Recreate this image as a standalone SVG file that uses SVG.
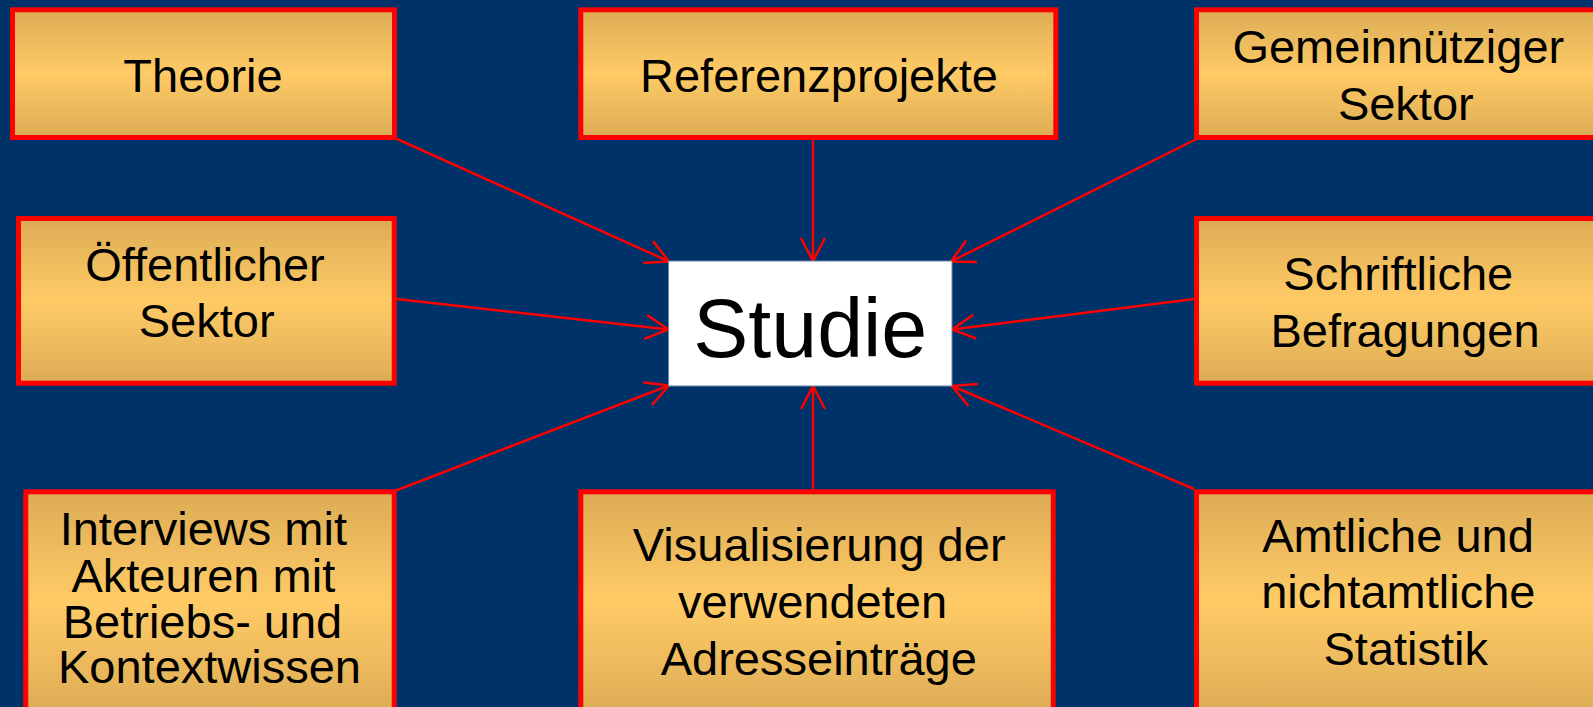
<svg xmlns="http://www.w3.org/2000/svg" width="1593" height="707" viewBox="0 0 1593 707">
<defs>
<linearGradient id="gold" x1="0" y1="0" x2="0" y2="1">
<stop offset="0" stop-color="#DCAC55"/>
<stop offset="0.5" stop-color="#FFCB66"/>
<stop offset="1" stop-color="#DCAC55"/>
</linearGradient>
<marker id="arr" markerUnits="userSpaceOnUse" markerWidth="40" markerHeight="40" viewBox="-30 -20 40 40" refX="0" refY="0" orient="auto" overflow="visible">
<path d="M-23,-12 L0,0 L-23,12" fill="none" stroke="#FF0000" stroke-width="2.5"/>
</marker>
<style>
.box{fill:url(#gold);stroke:#FF0000;stroke-width:5}
.t{font-family:"Liberation Sans",Arial,sans-serif;font-size:47px;fill:#000;text-anchor:middle}
.c{fill:none;stroke:#FF0000;stroke-width:2.5;marker-end:url(#arr)}
</style>
</defs>
<rect width="1593" height="707" fill="#00326A"/>
<g id="connectors">
<line class="c" x1="396" y1="138.5" x2="669" y2="261.5"/>
<line class="c" x1="813" y1="140" x2="813" y2="261"/>
<line class="c" x1="1196.5" y1="139" x2="951" y2="261.5"/>
<line class="c" x1="396.5" y1="299" x2="668.5" y2="329.5"/>
<line class="c" x1="1194" y1="299" x2="952" y2="329.5"/>
<line class="c" x1="396" y1="490.5" x2="669" y2="385.5"/>
<line class="c" x1="813" y1="489" x2="813" y2="386"/>
<line class="c" x1="1194" y1="489" x2="952" y2="386"/>
</g>
<g id="studie">
<rect x="668.5" y="261" width="283.5" height="125" fill="#FFFFFF" stroke="#6A86A8" stroke-width="1"/>
<text x="810.3" y="356.5" style="font-family:'Liberation Sans',Arial,sans-serif;font-size:82.5px;text-anchor:middle">Studie</text>
</g>
<g id="theorie">
<rect class="box" x="12.5" y="9.8" width="382" height="127.7"/>
<text class="t" x="203" y="91.5">Theorie</text>
</g>
<g id="referenzprojekte">
<rect class="box" x="580.8" y="9.8" width="475" height="127.7"/>
<text class="t" x="819" y="91.5">Referenzprojekte</text>
</g>
<g id="gemeinnuetziger">
<rect class="box" x="1196.5" y="9.8" width="410" height="127.7"/>
<text class="t" x="1398.3" y="63.3">Gemeinnütziger</text>
<text class="t" x="1405.8" y="120">Sektor</text>
</g>
<g id="oeffentlicher">
<rect class="box" x="18.5" y="218.5" width="375.7" height="164.7"/>
<text class="t" x="205" y="281">Öffentlicher</text>
<text class="t" x="206.7" y="337.3">Sektor</text>
</g>
<g id="schriftliche">
<rect class="box" x="1196.5" y="218.5" width="410" height="164.7"/>
<text class="t" x="1398.3" y="290">Schriftliche</text>
<text class="t" x="1405" y="346.7">Befragungen</text>
</g>
<g id="interviews">
<rect class="box" x="25.8" y="491.8" width="368.4" height="222"/>
<text class="t" x="203.3" y="545">Interviews mit</text>
<text class="t" x="203.3" y="591.7">Akteuren mit</text>
<text class="t" x="202.5" y="638">Betriebs- und</text>
<text class="t" x="209.5" y="683.3">Kontextwissen</text>
</g>
<g id="visualisierung">
<rect class="box" x="580.8" y="491.8" width="472.4" height="222"/>
<text class="t" x="819.2" y="560.7">Visualisierung der</text>
<text class="t" x="812.5" y="618.3">verwendeten</text>
<text class="t" x="818.8" y="675">Adresseinträge</text>
</g>
<g id="amtliche">
<rect class="box" x="1196.5" y="491.8" width="410" height="222"/>
<text class="t" x="1398" y="551.7">Amtliche und</text>
<text class="t" x="1398.3" y="608.3">nichtamtliche</text>
<text class="t" x="1405.8" y="665">Statistik</text>
</g>
</svg>
